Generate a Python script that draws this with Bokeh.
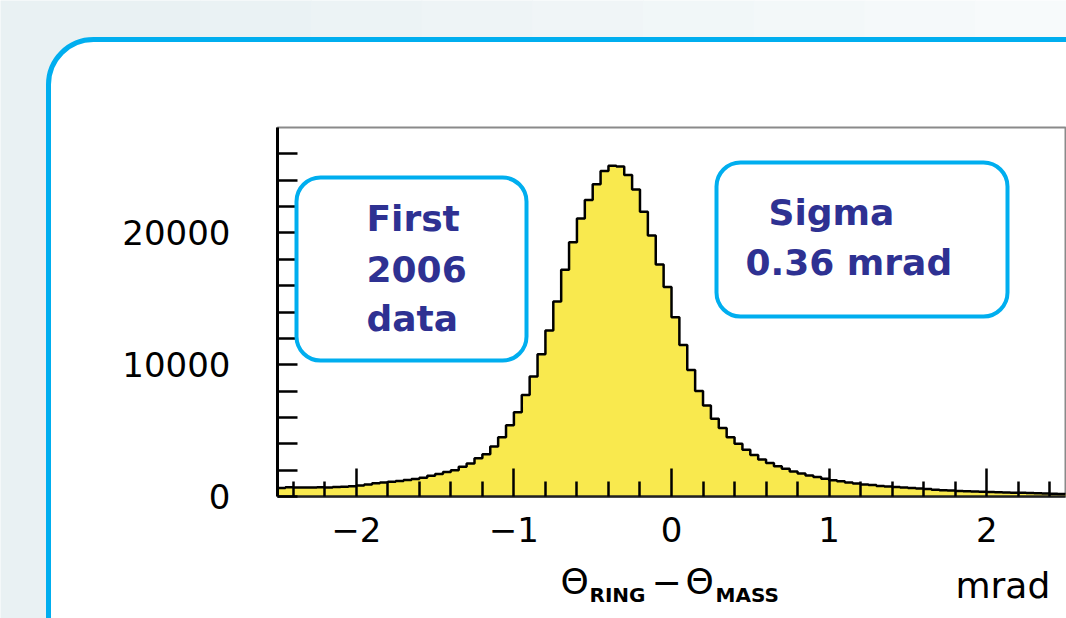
import numpy as np
from bokeh.plotting import figure
from bokeh.models import Range1d, FixedTicker, BoxAnnotation, PolyAnnotation, Label
from bokeh.embed import file_html
from bokeh.resources import INLINE

# ---------------- data ----------------
x_low, x_high = -2.5, 2.5          # histogram range, mrad
counts = [650, 700, 690, 680, 680, 700, 690, 720, 740, 780,
          830, 920, 1000, 1060, 1120, 1180, 1250, 1320, 1420, 1570,
          1700, 1850, 2000, 2250, 2500, 2900, 3200, 3800, 4500, 5400,
          6400, 7700, 9100, 10800, 12600, 14800, 17200, 19300, 21100, 22500,
          23700, 24700, 25100, 25050, 24400, 23300, 21600, 19800, 17600, 15900,
          13600, 11500, 9600, 8000, 6900, 5900, 5200, 4500, 4000, 3550,
          3150, 2800, 2550, 2300, 2100, 1900, 1750, 1600, 1480, 1350,
          1230, 1150, 1060, 990, 920, 870, 800, 760, 720, 680,
          640, 600, 560, 520, 480, 450, 420, 400, 380, 360,
          340, 320, 300, 290, 280, 260, 240, 220, 200, 190]
x_major_ticks = [-2, -1, 0, 1, 2]
x_tick_labels = {-2: "\u22122", -1: "\u22121", 0: "0", 1: "1", 2: "2"}
x_minor_ticks = [-2.4, -2.2, -1.8, -1.6, -1.4, -1.2, -0.8, -0.6, -0.4, -0.2,
                 0.2, 0.4, 0.6, 0.8, 1.2, 1.4, 1.6, 1.8, 2.2, 2.4]
y_major_ticks = [0, 10000, 20000]
y_minor_ticks = [2000, 4000, 6000, 8000, 12000, 14000, 16000, 18000,
                 22000, 24000, 26000]
y_max = 28000
box1_lines = ["First", "2006", "data"]
box2_lines = ["Sigma", "0.36 mrad"]

# ---------------- layout / style ----------------
W, H = 1066, 618
FL, FR, FT, FB = 277, 1065, 127, 496     # where the histogram frame sits
YELLOW = "#f9e94e"
CYAN = "#00aeef"
NAVY = "#2e3192"


def dx(px):
    return x_low + (px - FL) * (x_high - x_low) / (FR - FL)


def dy(py):
    return (FB - py) * y_max / (FB - FT)


p = figure(width=W, height=H, x_range=Range1d(dx(0), dx(W)),
           y_range=Range1d(dy(H), dy(0)), output_backend="svg",
           toolbar_location=None,
           min_border_left=0, min_border_right=0,
           min_border_top=0, min_border_bottom=0,
           background_fill_color="white", border_fill_color="white")
p.grid.visible = False
p.outline_line_color = None

# frame of the histogram (top / right sides visible; axes drawn over the rest)
p.add_layout(BoxAnnotation(left=x_low, right=x_high, top=y_max, bottom=0,
                           fill_alpha=0, line_color="#8a8a8a", line_alpha=1,
                           line_width=2, level="underlay"))

# histogram
edges = np.round(np.linspace(x_low, x_high, len(counts) + 1), 4)
y_ext = list(counts) + [counts[-1]]
p.varea_step(x=edges, y1=0, y2=y_ext, step_mode="after", fill_color=YELLOW)
p.step(x=edges, y=y_ext, mode="after", line_color="black", line_width=2.5)

# axes (fixed inside the canvas)
xa = p.xaxis[0]
xa.fixed_location = 0
xa.bounds = (x_low, x_high)
xa.ticker = FixedTicker(ticks=x_major_ticks, minor_ticks=x_minor_ticks)
xa.major_label_overrides = x_tick_labels
xa.major_tick_in = 28
xa.major_tick_out = 0
xa.minor_tick_in = 15
xa.minor_tick_out = 0
xa.major_tick_line_width = 2.5
xa.minor_tick_line_width = 2.5
xa.axis_line_width = 2.5
xa.axis_line_color = "#222222"
xa.major_label_standoff = 20
xa.major_label_text_font = "DejaVu Sans"
xa.major_label_text_font_size = "34px"
xa.major_label_text_color = "black"

ya = p.yaxis[0]
ya.fixed_location = x_low
ya.bounds = (0, y_max)
ya.ticker = FixedTicker(ticks=y_major_ticks, minor_ticks=y_minor_ticks)
ya.major_tick_in = 20
ya.major_tick_out = 0
ya.minor_tick_in = 20
ya.minor_tick_out = 0
ya.major_tick_line_width = 2.5
ya.minor_tick_line_width = 2.5
ya.axis_line_width = 3
ya.axis_line_color = "black"
ya.major_label_standoff = 47
ya.major_label_text_font = "DejaVu Sans"
ya.major_label_text_font_size = "34px"
ya.major_label_text_color = "black"
ya.major_label_orientation = "horizontal"

# ---------------- slide background (outside the rounded frame) ----------------
R = 45
bx, by = 48, 39
cx, cy = bx + R, by + R
ang = np.linspace(-np.pi / 2, -np.pi, 24)
arc_x = [cx + R * np.cos(a) for a in ang]
arc_y = [cy + R * np.sin(a) for a in ang]
poly_px_x = [-20, 200, 200] + arc_x + [bx, -20]
poly_px_y = [-20, -20, by] + arc_y + [H + 50, H + 50]
p.add_layout(PolyAnnotation(xs=[dx(v) for v in poly_px_x],
                            ys=[dy(v) for v in poly_px_y],
                            fill_color="#e9f1f3", fill_alpha=1,
                            line_color=None, level="annotation"))
c0 = np.array([0xe9, 0xf1, 0xf3])
c1 = np.array([0xf8, 0xfb, 0xfc])
nb = 8
band_w = (W + 20 - 200) / nb
for i in range(nb):
    c = c0 + (c1 - c0) * (i + 0.5) / nb
    col = "#%02x%02x%02x" % tuple(int(round(v)) for v in c)
    p.add_layout(BoxAnnotation(left=dx(200 + i * band_w - 0.5),
                               right=dx(200 + (i + 1) * band_w + 0.5),
                               top=dy(-20), bottom=dy(by),
                               fill_color=col, fill_alpha=1, line_color=None,
                               level="annotation"))
p.add_layout(BoxAnnotation(left=dx(bx), right=dx(W + 200), top=dy(by),
                           bottom=dy(H + 200), fill_alpha=0,
                           line_color=CYAN, line_alpha=1, line_width=5,
                           border_radius=R, level="annotation"))

# ---------------- text boxes ----------------
p.add_layout(BoxAnnotation(left=dx(296), right=dx(526), top=dy(177),
                           bottom=dy(360), fill_alpha=0, line_color=CYAN,
                           line_alpha=1, line_width=4, border_radius=24,
                           level="annotation"))
p.add_layout(BoxAnnotation(left=dx(716), right=dx(1007), top=dy(162),
                           bottom=dy(316), fill_alpha=0, line_color=CYAN,
                           line_alpha=1, line_width=4, border_radius=24,
                           level="annotation"))

for txt, px, py in zip(box1_lines, [366, 366, 366], [218, 268, 318]):
    p.add_layout(Label(x=dx(px), y=dy(py), text=txt, text_font="DejaVu Sans",
                       text_font_style="bold", text_font_size="36px",
                       text_color=NAVY, text_baseline="alphabetic",
                       text_align="left"))
for txt, px, py in zip(box2_lines, [768, 745], [212, 262]):
    p.add_layout(Label(x=dx(px), y=dy(py), text=txt, text_font="DejaVu Sans",
                       text_font_style="bold", text_font_size="36px",
                       text_color=NAVY, text_baseline="alphabetic",
                       text_align="left"))

# ---------------- x-axis title ----------------
title_parts = [("\u0398", 560, 581, "36px", "normal"),
               ("RING", 589, 594, "20px", "bold"),
               ("\u2212", 651, 581, "36px", "normal"),
               ("\u0398", 685, 581, "36px", "normal"),
               ("MASS", 715, 594, "20px", "bold"),
               ("mrad", 955, 585, "36px", "normal")]
for txt, px, py, fs, st in title_parts:
    p.add_layout(Label(x=dx(px), y=dy(py), text=txt, text_font="DejaVu Sans",
                       text_font_style=st, text_font_size=fs,
                       text_color="black", text_baseline="alphabetic",
                       text_align="left"))

open("out.html", "w").write(file_html(p, INLINE))
